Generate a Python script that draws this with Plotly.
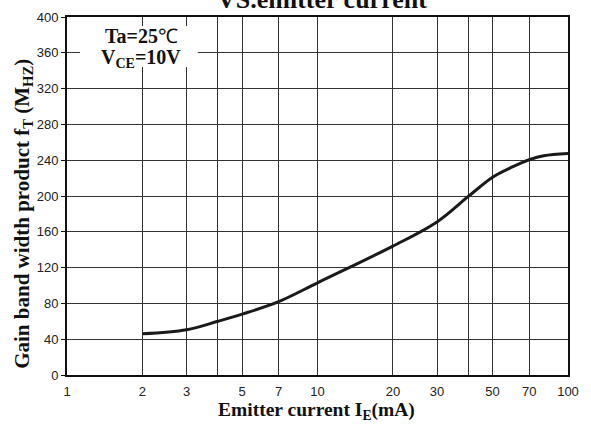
import plotly.graph_objects as go

# Data
emitter_current_mA = [2, 3, 4, 5, 7, 10, 20, 30, 40, 50, 60, 70, 80, 100]
gain_bw_MHz = [46, 50.5, 60, 68, 82, 103, 144, 171, 199.5, 221, 232.5, 240.5, 245, 247.5]

x_tickvals = [1, 2, 3, 4, 5, 7, 10, 20, 30, 40, 50, 70, 100]
x_ticktext = ["1", "2", "3", "", "5", "7", "10", "20", "30", "", "50", "70", "100"]
y_tickvals = [0, 40, 80, 120, 160, 200, 240, 280, 320, 360, 400]

serif = "Liberation Serif, Times New Roman, serif"
sans = "Liberation Sans, Arial, sans-serif"

fig = go.Figure()
fig.add_trace(go.Scatter(
    x=emitter_current_mA, y=gain_bw_MHz, mode="lines",
    line=dict(color="#1a1a1a", width=3, shape="spline", smoothing=1.0),
    showlegend=False, hoverinfo="skip",
))

fig.update_layout(
    width=591, height=426,
    margin=dict(l=67, r=23, t=10, b=50.5),
    paper_bgcolor="white", plot_bgcolor="white",
    xaxis=dict(
        type="log", range=[0, 2],
        tickmode="array", tickvals=x_tickvals, ticktext=x_ticktext,
        showgrid=True, gridcolor="#333333", gridwidth=1,
        showline=True, linecolor="#111111", linewidth=2, mirror=True,
        ticks="", ticklabelstandoff=3,
        tickfont=dict(family=sans, size=13, color="#222222"),
        zeroline=False,
    ),
    yaxis=dict(
        range=[0, 400],
        tickmode="array", tickvals=y_tickvals,
        showgrid=True, gridcolor="#333333", gridwidth=1,
        showline=True, linecolor="#111111", linewidth=2, mirror=True,
        ticks="outside", ticklen=4, tickcolor="#111111",
        tickfont=dict(family=sans, size=13, color="#222222"),
        zeroline=False,
    ),
    shapes=[
        dict(type="rect", xref="paper", yref="paper",
             x0=0.026, x1=0.261, y0=0.86, y1=0.975,
             fillcolor="white", line=dict(width=0), layer="above"),
    ],
    annotations=[
        dict(text="<b>VS.emitter current</b>", xref="paper", yref="paper",
             x=0.509, y=1.0, xanchor="center", yanchor="bottom", yshift=1,
             showarrow=False, font=dict(family=serif, size=26, color="#111111")),
        dict(text="<b>Ta=25</b>℃", xref="paper", yref="paper",
             x=0.148, y=0.947, xanchor="center", yanchor="middle",
             showarrow=False, font=dict(family=serif, size=20, color="#111111")),
        dict(text="<b>V<sub>CE</sub>=10V</b>", xref="paper", yref="paper",
             x=0.148, y=0.885, xanchor="center", yanchor="middle",
             showarrow=False, font=dict(family=serif, size=20, color="#111111")),
        dict(text="<b>Gain band width product f<sub>T</sub> (M<sub>HZ</sub>)</b>",
             xref="paper", yref="paper", x=-0.088, y=0.45, textangle=-90,
             xanchor="center", yanchor="middle", showarrow=False,
             font=dict(family=serif, size=21, color="#111111")),
        dict(text="<b>Emitter current I<sub>E</sub>(mA)</b>",
             xref="paper", yref="paper", x=0.499, y=-0.1,
             xanchor="center", yanchor="middle", showarrow=False,
             font=dict(family=serif, size=19.5, color="#111111")),
    ],
)

fig.write_html("out.html")
